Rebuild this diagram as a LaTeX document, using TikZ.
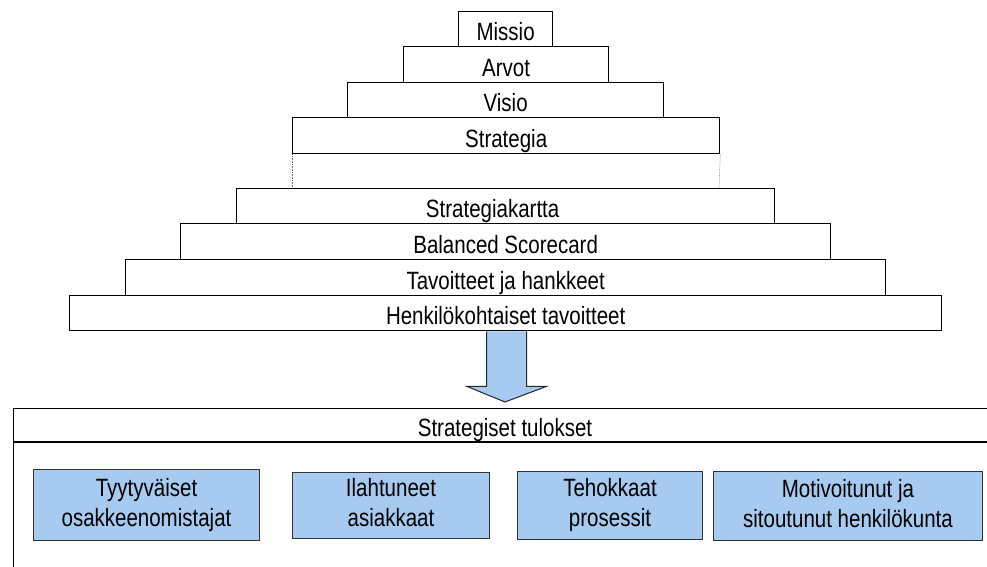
\documentclass[tikz,border=0pt]{standalone}
\usepackage{fontspec}
\setmainfont{Liberation Sans}[FakeStretch=0.82]
\usetikzlibrary{calc}
\definecolor{boxblue}{HTML}{A6CAF0}
\begin{document}
\begin{tikzpicture}[x=1pt,y=-1pt,
  lvl/.style={draw=black, line width=1.3pt, fill=white, inner sep=0pt, anchor=north west,
    text height=23pt, text depth=0pt, font=\fontsize{25}{30}\selectfont},
  goal/.style={draw=black!80, line width=1pt, fill=boxblue, inner sep=0pt, anchor=north west,
    align=center, font=\fontsize{25}{30}\selectfont},
  guide/.style={draw=black!60, line width=0.6pt, densely dotted},
  blockarrow/.style={draw=black!85, line width=1pt, fill=boxblue, line join=miter}]
\useasboundingbox (0,0) rectangle (987,567);
\clip (0,0) rectangle (987,567);
\fill[white] (0,0) rectangle (987,567);
% pyramid
\node[lvl, minimum width=94pt,  minimum height=35pt] (missio) at (458,11)  {Missio};
\node[lvl, minimum width=205pt, minimum height=36pt] (arvot)  at (403,46)  {Arvot};
\node[lvl, minimum width=316pt, minimum height=35pt] (visio)  at (347,82)  {Visio};
\node[lvl, minimum width=427pt, minimum height=36pt] (strat)  at (292,117) {Strategia};
\coordinate (dl) at (292,188);
\coordinate (dr) at (719,188);
\draw[guide] (strat.south west) -- (dl);
\draw[guide] (strat.south east) -- (dr);
\node[lvl, minimum width=538pt, minimum height=35pt] (kartta) at (236,188) {Strategiakartta\hspace*{26pt}};
\node[lvl, minimum width=650pt, minimum height=36pt] (bsc)    at (180,223) {Balanced Scorecard};
\node[lvl, minimum width=760pt, minimum height=36pt] (tav)    at (125,259) {Tavoitteet ja hankkeet};
\node[lvl, minimum width=872pt, minimum height=35pt] (henk)   at (69,295)  {Henkilökohtaiset tavoitteet};
% results frame
\node[draw=black, line width=1.3pt, inner sep=0pt, anchor=north west,
      minimum width=1000pt, minimum height=200pt] (res) at (13,408) {};
\node[inner sep=0pt, anchor=north, minimum height=34pt, text height=23pt, text depth=0pt,
      font=\fontsize{25}{30}\selectfont] (hdr) at (505,408) {Strategiset tulokset};
\draw[line width=1.3pt] ($(res.north west)+(0,34)$) -- ($(res.north east)+(0,34)$);
% block arrow
\coordinate (atip) at (505,402);
\draw[blockarrow]
  ($(henk.south)+(-19,0)$) -- ($(henk.south)+(-19,55)$) -- ($(henk.south)+(-39,55)$)
  -- (atip) -- ($(henk.south)+(41,55)$) -- ($(henk.south)+(21,55)$) -- ($(henk.south)+(21,0)$);
% goals
\node[goal, minimum width=226pt, minimum height=71pt] (g1) at (33,469)  {Tyytyväiset\strut\\osakkeenomistajat\strut};
\node[goal, minimum width=197pt, minimum height=66pt] (g2) at (292,472) {Ilahtuneet\strut\\asiakkaat\strut};
\node[goal, minimum width=185pt, minimum height=68pt] (g3) at (517,471) {Tehokkaat\strut\\prosessit\strut};
\node[goal, minimum width=269pt, minimum height=69pt] (g4) at (713,471) {Motivoitunut ja\strut\\sitoutunut henkilökunta\strut};
\end{tikzpicture}
\end{document}
